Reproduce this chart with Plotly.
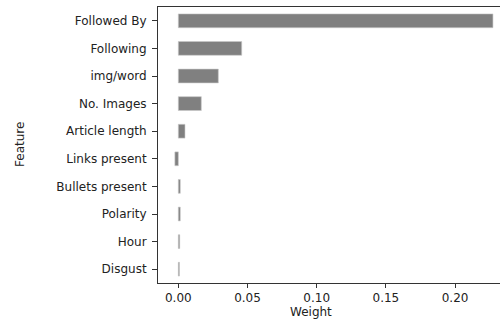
import plotly.graph_objects as go

features = ["Followed By", "Following", "img/word", "No. Images", "Article length",
            "Links present", "Bullets present", "Polarity", "Hour", "Disgust"]
weights = [0.2274, 0.0458, 0.0289, 0.0166, 0.0048, -0.0025, 0.0014, 0.0014, 0.0010, 0.0008]
x_ticks = [0.00, 0.05, 0.10, 0.15, 0.20]
x_tick_labels = ["0.00", "0.05", "0.10", "0.15", "0.20"]

font = dict(family="DejaVu Sans", size=12, color="#222222")

fig = go.Figure(go.Bar(
    y=features, x=weights, orientation="h",
    marker=dict(color="#808080", line=dict(color="#c8c8c8", width=0.6)),
))

fig.update_layout(
    width=500, height=320,
    margin=dict(l=158, r=0, t=7, b=37),
    plot_bgcolor="white", paper_bgcolor="white",
    font=font, showlegend=False, bargap=0.5,
    annotations=[
        dict(text="Weight", xref="paper", yref="paper", x=0.448, y=0, yshift=-29,
             xanchor="center", yanchor="middle", showarrow=False, font=font),
        dict(text="Feature", xref="paper", yref="paper", x=0, xshift=-138, y=0.5,
             xanchor="center", yanchor="middle", textangle=-90, showarrow=False, font=font),
    ],
)
fig.update_xaxes(
    range=[-0.0147, 0.2325], tickvals=x_ticks, ticktext=x_tick_labels, automargin=False,
    showgrid=False, zeroline=False, showline=True, linecolor="#333333", linewidth=1,
    mirror=True, ticks="outside", ticklen=4, tickcolor="#333333",
)
fig.update_yaxes(
    categoryorder="array", categoryarray=features, autorange=False, range=[9.5, -0.5],
    automargin=False,
    showgrid=False, zeroline=False, showline=True, linecolor="#333333", linewidth=1,
    ticks="outside", ticklen=5, tickcolor="#333333", ticklabelstandoff=3,
)

fig.write_html("out.html", config={"displayModeBar": False},
               post_script="document.body.style.margin='0px';")
